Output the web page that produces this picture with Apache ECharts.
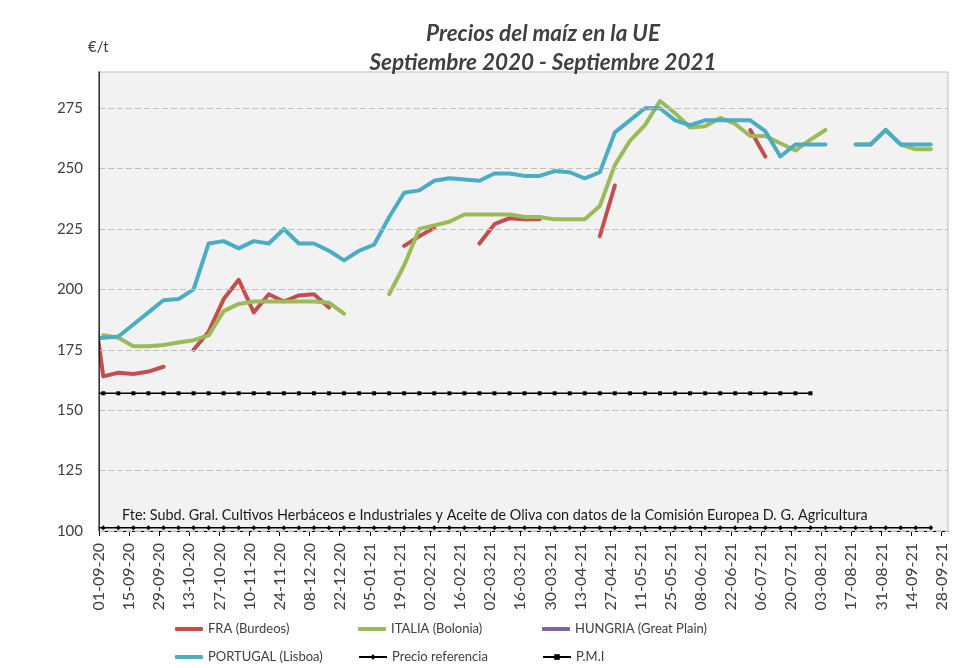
<!DOCTYPE html>
<html>
<head>
<meta charset="utf-8">
<title>Precios del maíz en la UE</title>
<script src="https://cdn.jsdelivr.net/npm/echarts@6/dist/echarts.min.js"></script>
<style>
  html, body { margin: 0; padding: 0; background: #fff; }
  #chart { width: 978px; height: 668px; }
</style>
</head>
<body>
<div id="chart"></div>
<script>
// cotizaciones semanales (jueves); la primera cae antes del inicio del eje
const fechas = [
  '27-08-20', '03-09-20', '10-09-20', '17-09-20', '24-09-20', '01-10-20', '08-10-20', '15-10-20',
  '22-10-20', '29-10-20', '05-11-20', '12-11-20', '19-11-20', '26-11-20', '03-12-20', '10-12-20',
  '17-12-20', '24-12-20', '31-12-20', '07-01-21', '14-01-21', '21-01-21', '28-01-21', '04-02-21',
  '11-02-21', '18-02-21', '25-02-21', '04-03-21', '11-03-21', '18-03-21', '25-03-21', '01-04-21',
  '08-04-21', '15-04-21', '22-04-21', '29-04-21', '06-05-21', '13-05-21', '20-05-21', '27-05-21',
  '03-06-21', '10-06-21', '17-06-21', '24-06-21', '01-07-21', '08-07-21', '15-07-21', '22-07-21',
  '29-07-21', '05-08-21', '12-08-21', '19-08-21', '26-08-21', '02-09-21', '09-09-21', '16-09-21',
  '23-09-21'
]

const fra = [
  209, 164, 165.5, 165, 166, 168, null, 175, 182.5, 196, 204, 190.5, 198, 195, 197.5, 198,
  192.5, null, null, null, null, 218, 222, 225.5, null, null, 219, 227, 229.5, 229, 229, null,
  null, null, 222, 243, null, null, null, null, null, null, null, null, 266, 255, null, null,
  null, null, null, null, null, null, null, null, null
]
const italia = [
  null, 181, 180, 176.5, 176.5, 177, 178, 179, 181, 191, 194, 195, 195, 195, 195, 195,
  194.5, 190, null, null, 198, 210, 225, 226.5, 228, 231, 231, 231, 231, 230, 230, 229,
  229, 229, 234.5, 251.5, 261.5, 268, 278, 273, 267, 267.5, 271, 268.5, 263.5, 263.5, 260.5, 257.5,
  262, 266, null, 260, 260, 266, 260, 258, 258
]
const hungria = []
const portugal = [
  179.5, 180, 180.5, 185.5, 190.5, 195.5, 196, 200, 219, 220, 217, 220, 219, 225, 219, 219,
  216, 212, 216, 218.5, 230, 240, 241, 245, 246, 245.5, 245, 248, 248, 247, 247, 249,
  248.5, 246, 248.5, 265, 270, 275, 275, 270, 268, 270, 270, 270, 270, 265.5, 255, 260,
  260, 260, null, 260, 260, 266, 260, 260, 260
]
const precioReferencia = [
  101.31, 101.31, 101.31, 101.31, 101.31, 101.31, 101.31, 101.31, 101.31, 101.31, 101.31, 101.31,
  101.31, 101.31, 101.31, 101.31, 101.31, 101.31, 101.31, 101.31, 101.31, 101.31, 101.31, 101.31,
  101.31, 101.31, 101.31, 101.31, 101.31, 101.31, 101.31, 101.31, 101.31, 101.31, 101.31, 101.31,
  101.31, 101.31, 101.31, 101.31, 101.31, 101.31, 101.31, 101.31, 101.31, 101.31, 101.31, 101.31,
  101.31, 101.31, 101.31, 101.31, 101.31, 101.31, 101.31, 101.31, 101.31
]
const pmi = [
  157, 157, 157, 157, 157, 157, 157, 157, 157, 157, 157, 157, 157, 157, 157, 157,
  157, 157, 157, 157, 157, 157, 157, 157, 157, 157, 157, 157, 157, 157, 157, 157,
  157, 157, 157, 157, 157, 157, 157, 157, 157, 157, 157, 157, 157, 157, 157, 157,
  157, null, null, null, null, null, null, null, null
]

// eje X en dias desde 01-09-20, marcas cada 14 dias
const ORIGEN = Date.UTC(2020, 8, 1)
const DIA = 86400000

function aDias(f) {
  const [d, m, a] = f.split('-').map(Number)
  return (Date.UTC(2000 + a, m - 1, d) - ORIGEN) / DIA
}
function aFecha(dias) {
  const dt = new Date(ORIGEN + dias * DIA)
  const pad = n => String(n).padStart(2, '0')
  return pad(dt.getUTCDate()) + '-' + pad(dt.getUTCMonth() + 1) + '-' + String(dt.getUTCFullYear()).slice(2)
}
const xs = fechas.map(aDias)
const pares = serie => serie.map((v, i) => [xs[i], v])

const FUENTE = 'Lato, "Open Sans", sans-serif'
const GRIS = '#404040'

function linea(nombre, datos, color) {
  return {
    name: nombre,
    type: 'line',
    data: pares(datos),
    symbol: 'none',
    itemStyle: { color: color },
    lineStyle: { color: color, width: 4, cap: 'round', join: 'round' }
  }
}
function referencia(nombre, datos, simbolo, tam) {
  return {
    name: nombre,
    type: 'line',
    data: pares(datos),
    symbol: simbolo,
    symbolSize: tam,
    showAllSymbol: true,
    itemStyle: { color: '#000' },
    lineStyle: { color: '#000', width: 1.5 }
  }
}
// una leyenda por elemento para fijar filas y columnas
function leyenda(nombre, left, top, conSimbolo) {
  const l = {
    data: [nombre],
    left: left,
    top: top,
    padding: 0,
    itemWidth: 28,
    itemHeight: conSimbolo ? 7 : 4,
    textStyle: { fontFamily: FUENTE, fontSize: 13, color: GRIS, lineHeight: 16 }
  }
  if (!conSimbolo) l.icon = 'roundRect'
  return l
}

const chart = echarts.init(document.getElementById('chart'))
chart.setOption({
  animation: false,
  backgroundColor: '#fff',
  grid: {
    left: 99, right: 30, top: 72, bottom: 137,
    show: true, backgroundColor: '#f2f2f2', borderColor: '#bfbfbf', borderWidth: 1,
    outerBoundsMode: 'none'
  },
  xAxis: {
    type: 'value',
    min: 0,
    max: 395,
    interval: 14,
    axisLine: { lineStyle: { color: '#000', width: 1 } },
    axisTick: { show: true, length: 5, lineStyle: { color: '#000' } },
    axisLabel: {
      rotate: 90, margin: 12, showMaxLabel: false,
      fontFamily: FUENTE, fontSize: 16, color: GRIS,
      formatter: v => aFecha(v)
    },
    splitLine: { show: false }
  },
  yAxis: {
    type: 'value',
    min: 100,
    max: 290,
    interval: 25,
    z: 5,
    axisLine: { show: true, lineStyle: { color: '#000', width: 1.5 } },
    axisTick: { show: false },
    axisLabel: { margin: 16, showMaxLabel: false, fontFamily: FUENTE, fontSize: 15, color: GRIS },
    splitLine: { showMaxLine: false, lineStyle: { color: '#bfbfbf', type: [6, 3], width: 1 } }
  },
  legend: [
    leyenda('FRA (Burdeos)', 175, 621),
    leyenda('ITALIA (Bolonia)', 358, 621),
    leyenda('HUNGRIA (Great Plain)', 542, 621),
    leyenda('PORTUGAL (Lisboa)', 175, 649),
    leyenda('Precio referencia', 358, 649, true),
    leyenda('P.M.I', 542, 649, true)
  ],
  graphic: [
    // tapa el trozo de linea que el recorte deja fuera del eje Y
    { type: 'rect', z: 100, shape: { x: 86, y: 66, width: 12.4, height: 470 }, style: { fill: '#fff' } },
    { type: 'text', style: { text: 'Precios del maíz en la UE', x: 543, y: 34, align: 'center', verticalAlign: 'middle', textAlign: 'center', textVerticalAlign: 'middle', font: 'italic bold 22.5px ' + FUENTE, fill: GRIS } },
    { type: 'text', style: { text: 'Septiembre 2020 - Septiembre 2021', x: 543, y: 63, align: 'center', verticalAlign: 'middle', textAlign: 'center', textVerticalAlign: 'middle', font: 'italic bold 22.5px ' + FUENTE, fill: GRIS } },
    { type: 'text', style: { text: '€/t', x: 88, y: 47, verticalAlign: 'middle', textVerticalAlign: 'middle', font: '15px ' + FUENTE, fill: GRIS } },
    { type: 'text', z: 10, style: { text: 'Fte: Subd. Gral. Cultivos Herbáceos e Industriales y Aceite de Oliva con datos de la Comisión Europea D. G. Agricultura', x: 122, y: 515, verticalAlign: 'middle', textVerticalAlign: 'middle', font: '14.4px ' + FUENTE, fill: '#1a1a1a' } }
  ],
  series: [
    linea('FRA (Burdeos)', fra, '#c0504d'),
    linea('ITALIA (Bolonia)', italia, '#9bbb59'),
    linea('HUNGRIA (Great Plain)', hungria, '#8064a2'),
    linea('PORTUGAL (Lisboa)', portugal, '#4bacc6'),
    referencia('Precio referencia', precioReferencia, 'diamond', 5),
    referencia('P.M.I', pmi, 'rect', 4)
  ]
})
</script>
</body>
</html>
